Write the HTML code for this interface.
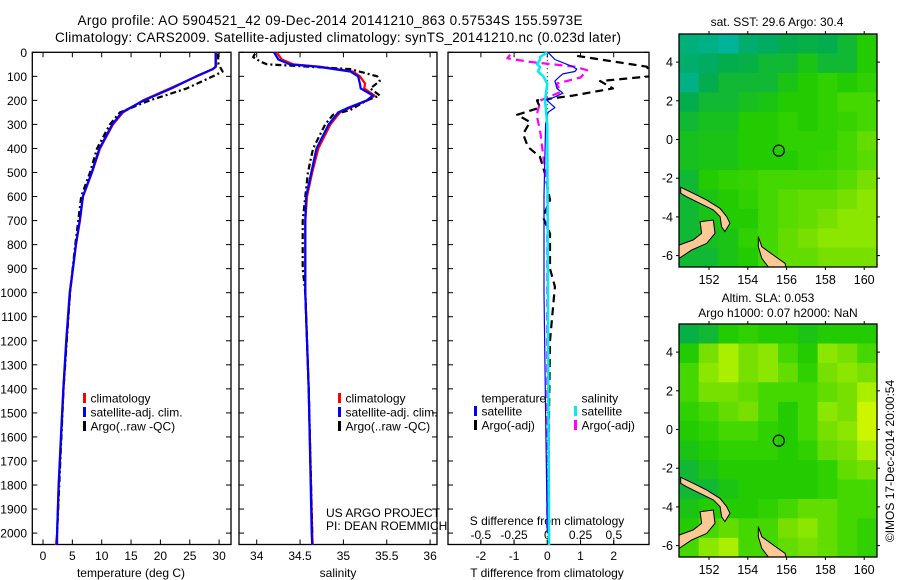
<!DOCTYPE html>
<html><head><meta charset="utf-8"><style>
html,body{margin:0;padding:0;background:#fff;}
svg{display:block;font-family:"Liberation Sans",sans-serif;}
</style></head><body>
<svg id="fig" width="900" height="580" viewBox="0 0 900 580" xmlns="http://www.w3.org/2000/svg">
<defs>
<clipPath id="c1"><rect x="32" y="52" width="199" height="493"/></clipPath>
<clipPath id="c2"><rect x="239" y="52" width="198" height="493"/></clipPath>
<clipPath id="c3"><rect x="448" y="52" width="201" height="493"/></clipPath>
<clipPath id="cm1"><rect x="679" y="34" width="198" height="233"/></clipPath>
<clipPath id="cm2"><rect x="679" y="324" width="198" height="233"/></clipPath>
</defs>
<text x="330" y="25" font-size="13.5" text-anchor="middle" textLength="505">Argo profile: AO 5904521_42 09-Dec-2014 20141210_863 0.57534S 155.5973E</text>
<text x="338" y="42" font-size="13.5" text-anchor="middle" textLength="566">Climatology: CARS2009. Satellite-adjusted climatology: synTS_20141210.nc (0.023d later)</text>
<g id="g"></g>
</svg>
<script>
// ---------- data ----------
const climDepth = [0,60,70,100,150,200,250,300,400,500,600,700,800,900,1000,1200,1400,1600,1800,2000,2050];
const climTemp  = [29.47,29.47,28.96,26.24,21.64,17.04,13.63,11.93,9.71,8.35,6.81,6.30,5.62,5.11,4.6,4.0,3.5,3.1,2.7,2.4,2.2];
const satTemp   = [29.4,29.4,28.9,26.1,21.9,17.2,13.4,11.8,9.6,8.3,6.8,6.25,5.6,5.1,4.55,3.95,3.45,3.05,2.65,2.4,2.4];
const argoTDepth = [5,50,80,100,150,200,250,300,400,500,600,800,1000,1400,2000];
const argoTemp   = [29.8,29.9,30.6,28.96,24.5,18.2,13.1,11.4,9.2,8.0,6.5,5.5,4.6,3.5,2.4];

const climSDepth = [0,30,50,60,80,100,130,150,180,200,230,250,300,400,500,600,700,1000,1400,2000,2050];
const climSal    = [34.23,34.29,34.42,34.73,35.11,35.19,35.25,35.24,35.36,35.28,35.08,34.96,34.85,34.71,34.64,34.58,34.56,34.56,34.6,34.64,34.646];
const satSal     = [34.2,34.25,34.38,34.7,35.08,35.17,35.19,35.2,35.34,35.27,35.06,34.94,34.83,34.69,34.63,34.57,34.56,34.56,34.6,34.634,34.64];
const argoSDepth = [5,20,40,50,60,70,100,120,150,180,200,240,260,300,400,500,700,900,1000,1400,2000];
const argoSal    = [33.98,33.96,34.05,34.12,34.61,35.08,35.39,35.42,35.31,35.42,35.27,35.08,34.88,34.79,34.65,34.59,34.53,34.53,34.56,34.6,34.64];

const satTdDepth = [0,30,50,60,70,80,90,100,120,150,170,200,230,250,300,600,1000,1500,2000];
const satTdiff   = [0.02,0.23,0.59,0.77,0.89,0.83,0.47,0.38,0.23,0.29,0.47,-0.01,0.23,0.02,-0.05,-0.1,-0.1,-0.05,0];
const argoTdDepth = [15,60,88,100,120,150,180,200,230,260,290,340,394,435,505,615,685,755,900,975,1200,1500,2000];
const argoTdiff   = [0.9,3.0,3.1,3.1,1.59,1.98,0.77,-0.31,-0.22,-0.91,-0.52,-0.73,-0.58,-0.22,-0.07,0.08,-0.13,0.08,0.08,0.23,0.08,0.05,0.02];
const satSdDepth = [0,20,30,50,60,80,100,130,200,300,1000,2000,2050];
const satSdiff   = [0,-0.055,-0.055,-0.077,-0.055,-0.07,-0.03,0,-0.017,0,0.005,0.013,0.013];
const argoSdDepth = [10,25,40,60,75,105,130,165,200,260,340,435,545,800,2000];
const argoSdiff   = [-0.28,-0.3,-0.13,0.21,0.3,0.25,0.07,0.1,-0.05,-0.08,-0.05,-0.03,0,0,0];

const depthTicks = [0,100,200,300,400,500,600,700,800,900,1000,1100,1200,1300,1400,1500,1600,1700,1800,1900,2000];
const tempTicks = [0,5,10,15,20,25,30];
const salTicks = [34,34.5,35,35.5,36];
const tdTicks = [-2,-1,0,1,2];
const sdTicks = [-0.5,-0.25,0,0.25,0.5];
const lonTicks = [152,154,156,158,160];
const latTicks = [-6,-4,-2,0,2,4];

const sstGrid = [
[0.37,0.36,0.34,0.38,0.39,0.41,0.42,0.41,0.45,0.5],
[0.38,0.39,0.41,0.42,0.45,0.45,0.48,0.45,0.45,0.5],
[0.36,0.41,0.45,0.45,0.45,0.48,0.5,0.52,0.5,0.52],
[0.41,0.45,0.45,0.47,0.48,0.5,0.5,0.52,0.55,0.55],
[0.45,0.47,0.47,0.5,0.5,0.52,0.5,0.52,0.53,0.55],
[0.47,0.48,0.48,0.5,0.5,0.52,0.52,0.52,0.55,0.58],
[0.47,0.48,0.48,0.5,0.5,0.5,0.52,0.53,0.55,0.57],
[0.45,0.5,0.52,0.53,0.55,0.55,0.55,0.55,0.57,0.6],
[0.45,0.48,0.5,0.52,0.55,0.57,0.58,0.58,0.6,0.62],
[0.45,0.48,0.5,0.5,0.55,0.57,0.58,0.6,0.62,0.62],
[0.45,0.47,0.48,0.52,0.55,0.58,0.6,0.62,0.62,0.62],
[0.45,0.45,0.48,0.5,0.55,0.58,0.58,0.6,0.6,0.6]];
const slaGrid = [
[0.42,0.45,0.5,0.52,0.5,0.5,0.48,0.5,0.5,0.5],
[0.5,0.6,0.65,0.6,0.62,0.55,0.5,0.62,0.6,0.55],
[0.55,0.62,0.65,0.6,0.62,0.58,0.52,0.6,0.62,0.6],
[0.55,0.6,0.6,0.58,0.55,0.55,0.55,0.58,0.6,0.65],
[0.52,0.55,0.58,0.6,0.55,0.5,0.55,0.62,0.6,0.7],
[0.5,0.52,0.55,0.55,0.52,0.5,0.55,0.6,0.62,0.7],
[0.48,0.5,0.52,0.52,0.52,0.5,0.52,0.58,0.6,0.65],
[0.45,0.48,0.5,0.5,0.5,0.5,0.5,0.52,0.58,0.6],
[0.45,0.45,0.48,0.5,0.5,0.5,0.5,0.52,0.55,0.55],
[0.48,0.5,0.5,0.5,0.52,0.55,0.58,0.58,0.55,0.55],
[0.5,0.55,0.58,0.55,0.55,0.6,0.62,0.58,0.55,0.52],
[0.55,0.62,0.65,0.55,0.55,0.58,0.6,0.58,0.55,0.52]];
const argoLon = 155.5973, argoLat = -0.57534;
const landNewBritain = [[150.47,-5.45],[151.19,-5.19],[151.62,-4.85],[151.54,-4.25],[152.22,-4.16],[152.31,-4.85],[151.88,-5.37],[151.11,-5.71],[150.47,-6.14],[150.3,-6.14],[150.3,-5.45]];
const landNewIreland = [[150.54,-2.47],[151.19,-2.78],[151.88,-3.13],[152.57,-3.56],[152.91,-3.99],[153.08,-4.33],[152.82,-4.76],[152.65,-4.51],[152.57,-3.99],[152.22,-3.64],[151.54,-3.30],[150.85,-2.96],[150.54,-2.78]];
const landBougainville = [[154.54,-5.02],[154.72,-5.54],[155.31,-5.97],[155.92,-6.40],[156.0,-6.7],[155.14,-6.7],[154.72,-6.14],[154.54,-5.54]];

// ---------- helpers ----------
const NS = "http://www.w3.org/2000/svg";
const G = document.getElementById('g');
function mk(tag, attrs, parent){ const e=document.createElementNS(NS,tag); for(const k in attrs) e.setAttribute(k,attrs[k]); (parent||G).appendChild(e); return e; }
const yD = d => 52.3 + d*0.2404;
const xT = t => 43 + t*5.87;
const xS = s => 256.7 + (s-34)*86.7;
const xTd = t => 547.3 + t*33.2;
const xSd = s => 547.3 + s*133;
const lonX = lon => 709 + (lon-152)*19.4;
const latY0 = lat => 139.5 - lat*19.35;

function profile(depths, vals, xf, color, w, dash, clip, name){
  const pts = depths.map((d,i)=> xf(vals[i]).toFixed(1)+','+yD(d).toFixed(1)).join(' ');
  const e = mk('polyline',{points:pts,fill:'none',stroke:color,'stroke-width':w,'clip-path':'url(#'+clip+')','stroke-linejoin':'round'});
  if(dash) e.setAttribute('stroke-dasharray',dash);
  
  
}
function text(x,y,s,opts,name){
  const e = mk('text',Object.assign({x:x,y:y,'font-size':12},opts||{}));
  e.textContent = s;
  
  
  return e;
}

function panelFrame(x0,x1,name){
  const r = mk('rect',{x:x0,y:52.3,width:x1-x0,height:492.2,fill:'none',stroke:'#000','stroke-width':1.3});
  
  
  depthTicks.forEach(d=>{
    mk('line',{x1:x0,x2:x0+5,y1:yD(d),y2:yD(d),stroke:'#000'});
    mk('line',{x1:x1-5,x2:x1,y1:yD(d),y2:yD(d),stroke:'#000'});
  });
}
function xTicks(ticks,xf,labelY,fmt,top,name){
  ticks.forEach(t=>{
    const x = xf(t);
    mk('line',{x1:x,x2:x,y1:544.5,y2:539.5,stroke:'#000'});
    if(top) mk('line',{x1:x,x2:x,y1:52.3,y2:57.3,stroke:'#000'});
    if(labelY) text(x,labelY,fmt?fmt(t):String(t),{'text-anchor':'middle'},name);
  });
}

// ---------- panel 1 ----------
panelFrame(32.3,231,'temperature-panel-frame');
depthTicks.forEach(d=> text(27,yD(d)+4.5,String(d),{'text-anchor':'end'},'depth-tick-label'));
xTicks(tempTicks,xT,560,null,true,'temperature-tick-label');
text(131,577,'temperature (deg C)',{'text-anchor':'middle'},'temperature-axis-title');
profile(climDepth,climTemp,xT,'#f00',2.2,null,'c1','climatology-temperature-line');
profile(argoTDepth,argoTemp,xT,'#000',2.2,'6,3,2,3','c1','argo-temperature-line');
profile(climDepth,satTemp,xT,'#00f',2.2,null,'c1','satellite-temperature-line');

// ---------- panel 2 ----------
panelFrame(239,437,'salinity-panel-frame');
xTicks(salTicks,xS,560,null,true,'salinity-tick-label');
text(338,577,'salinity',{'text-anchor':'middle'},'salinity-axis-title');
profile(climSDepth,climSal,xS,'#f00',2.2,null,'c2','climatology-salinity-line');
profile(argoSDepth,argoSal,xS,'#000',2.2,'6,3,2,3','c2','argo-salinity-line');
profile(climSDepth,satSal,xS,'#00f',2.2,null,'c2','satellite-salinity-line');

// ---------- panel 3 ----------
panelFrame(448,649,'difference-panel-frame');
xTicks(tdTicks,xTd,560,null,true,'t-difference-tick-label');
sdTicks.forEach(s=>{ const x=xSd(s); mk('line',{x1:x,x2:x,y1:544.5,y2:540,stroke:'#000'}); text(x,539,String(s),{'text-anchor':'middle'},'s-difference-tick-label'); });
text(547,525,'S difference from climatology',{'text-anchor':'middle'},'s-difference-axis-title');
text(547,577,'T difference from climatology',{'text-anchor':'middle'},'t-difference-axis-title');
mk('line',{x1:xTd(0),x2:xTd(0),y1:52.3,y2:544.5,stroke:'#000','stroke-width':1,'stroke-dasharray':'1,3'});
profile(argoTdDepth,argoTdiff,xTd,'#000',2.2,'8,5','c3','argo-t-difference-line');
profile(argoSdDepth,argoSdiff,xSd,'#f0f',2.2,'8,5','c3','argo-s-difference-line');
profile(satTdDepth,satTdiff,xTd,'#00f',1.2,null,'c3','satellite-t-difference-line');
profile(satSdDepth,satSdiff,xSd,'#0ee',2.5,null,'c3','satellite-s-difference-line');

// ---------- legends ----------
function legend(mx,rows,name){
  rows.forEach(r=>{
    if(r.c){ const m=mk('rect',{x:mx,y:r.y-5,width:3,height:10,fill:r.c});   }
    text(mx+7.5,r.y+4.5,r.t,{},name+'-entry');
  });
}
legend(83,[{c:'#f00',t:'climatology',y:398},{c:'#00f',t:'satellite-adj. clim.',y:412},{c:'#000',t:'Argo(..raw -QC)',y:426}],'temperature-legend');
legend(338,[{c:'#f00',t:'climatology',y:398},{c:'#00f',t:'satellite-adj. clim.',y:412},{c:'#000',t:'Argo(..raw -QC)',y:426}],'salinity-legend');
legend(474,[{t:'temperature',y:398},{c:'#00f',t:'satellite',y:411},{c:'#000',t:'Argo(-adj)',y:425}],'t-difference-legend');
legend(574,[{t:'salinity',y:398},{c:'#0ee',t:'satellite',y:411},{c:'#f0f',t:'Argo(-adj)',y:425}],'s-difference-legend');
text(326,517,'US ARGO PROJECT',{},'project-label');
text(326,530,'PI: DEAN ROEMMICH',{},'pi-label');

// ---------- maps ----------
const stops = [[0,[0,0,170]],[0.2,[0,136,238]],[0.3,[0,187,204]],[0.4,[0,170,85]],[0.45,[17,184,51]],[0.5,[34,204,0]],[0.55,[68,216,0]],[0.6,[119,224,0]],[0.65,[170,238,0]],[0.7,[204,245,0]],[0.8,[255,204,0]],[1,[255,51,0]]];
function cmap(v){
  for(let i=1;i<stops.length;i++){ if(v<=stops[i][0]){ const a=stops[i-1],b=stops[i],f=(v-a[0])/(b[0]-a[0]); return 'rgb('+a[1].map((c,k)=>Math.round(c+(b[1][k]-c)*f)).join(',')+')'; } }
  return 'rgb(255,51,0)';
}
function drawMap(grid,dy,clip,name){
  const lon0=150.45,lon1=160.66,lat0=5.45,lat1=-6.6;
  const nr=grid.length,nc=grid[0].length, dl=(lon1-lon0)/nc, dla=(lat0-lat1)/nr;
  const g = mk('g',{'clip-path':'url(#'+clip+')'});
  
  
  grid.forEach((row,r)=>row.forEach((v,c)=>{
    const x=lonX(lon0+c*dl), y=latY0(lat0-r*dla)+dy;
    const cell = mk('rect',{x:x.toFixed(1),y:y.toFixed(1),width:(dl*19.4+0.6).toFixed(1),height:(dla*19.35+0.6).toFixed(1),fill:cmap(v)},g);
    
    
  }));
  [landNewBritain,landNewIreland,landBougainville].forEach(p=>{
    const l = mk('polygon',{points:p.map(q=>lonX(q[0]).toFixed(1)+','+(latY0(q[1])+dy).toFixed(1)).join(' '),fill:'#fcc894',stroke:'#000','stroke-width':1},g);
    
    
  });
  const c = mk('circle',{cx:lonX(argoLon),cy:latY0(argoLat)+dy,r:5.5,fill:'none',stroke:'#000','stroke-width':1.2});
  
  
  const f = mk('rect',{x:679,y:34+dy,width:198,height:233,fill:'none',stroke:'#000','stroke-width':1.3});
  
  
  lonTicks.forEach(l=>{ const x=lonX(l);
    mk('line',{x1:x,x2:x,y1:34+dy,y2:31+dy,stroke:'#000'}); mk('line',{x1:x,x2:x,y1:267+dy,y2:270+dy,stroke:'#000'});
    text(x,284+dy,String(l),{'text-anchor':'middle','font-size':12.5},name+'-lon-label'); });
  latTicks.forEach(l=>{ const y=latY0(l)+dy;
    mk('line',{x1:679,x2:676,y1:y,y2:y,stroke:'#000'}); mk('line',{x1:877,x2:880,y1:y,y2:y,stroke:'#000'});
    text(673,y+4.5,String(l),{'text-anchor':'end','font-size':12.5},name+'-lat-label'); });
}
drawMap(sstGrid,0,'cm1','sst-map');
drawMap(slaGrid,290,'cm2','sla-map');
text(777,26,'sat. SST: 29.6  Argo: 30.4',{'text-anchor':'middle','xml:space':'preserve'},'sst-map-title');
text(768,302,'Altim. SLA: 0.053',{'text-anchor':'middle'},'sla-map-title');
text(778,317,'Argo h1000: 0.07  h2000: NaN',{'text-anchor':'middle','xml:space':'preserve'},'sla-map-subtitle');
text(0,0,'©IMOS 17-Dec-2014 20:00:54',{'text-anchor':'middle',transform:'translate(894,461) rotate(-90)'},'copyright-timestamp');
</script>
</body></html>
